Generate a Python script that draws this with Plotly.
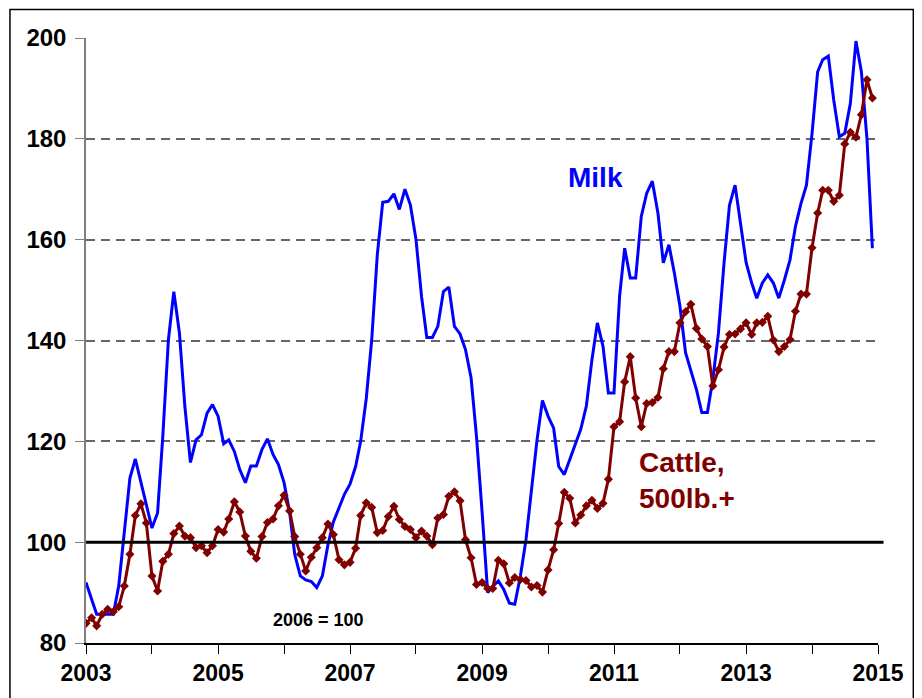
import pandas as pd
import plotly.graph_objects as go

# monthly index values, Jan 2003 - Dec 2014 (2006 = 100)
months = pd.date_range("2003-01-01", periods=144, freq="MS")

milk = [
    92.0, 88.6, 85.7, 85.7, 85.7, 85.7, 91.3, 101.8, 112.7, 116.5, 111.7, 107.1,      # 2003
    102.8, 105.8, 121.0, 140.1, 149.7, 141.5, 127.0, 115.8, 120.3, 121.3, 125.6, 127.3,  # 2004
    125.0, 119.5, 120.3, 118.0, 114.4, 111.8, 115.1, 115.1, 118.4, 120.5, 117.4, 115.4,  # 2005
    111.8, 105.9, 97.6, 93.3, 92.5, 92.2, 91.0, 93.3, 99.5, 104.0, 107.0, 109.5,         # 2006
    111.5, 115.0, 120.0, 128.5, 140.0, 157.0, 167.4, 167.6, 169.1, 166.0, 170.0, 166.9,  # 2007
    160.1, 148.7, 140.6, 140.6, 142.8, 149.7, 150.6, 142.8, 141.3, 138.2, 132.6, 121.0,  # 2008
    106.0, 90.0, 91.2, 92.3, 90.6, 87.9, 87.7, 93.3, 100.5, 110.4, 120.3, 128.1,         # 2009
    125.0, 122.6, 115.0, 113.4, 116.4, 119.1, 122.4, 127.0, 136.2, 143.5, 138.9, 129.6,  # 2010
    129.6, 148.8, 158.3, 152.4, 152.4, 164.6, 169.2, 171.6, 165.3, 155.4, 159.0, 153.4,  # 2011
    146.8, 137.6, 134.3, 130.3, 125.7, 125.7, 132.3, 141.5, 155.4, 166.8, 170.8, 163.5,  # 2012
    155.5, 151.4, 148.4, 151.4, 153.0, 151.4, 148.4, 152.0, 156.0, 162.6, 167.2, 170.8,  # 2013
    181.1, 193.3, 195.7, 196.4, 187.7, 180.4, 181.1, 187.0, 199.4, 193.3, 180.0, 158.3,  # 2014
]

cattle = [
    83.9, 85.0, 83.4, 85.7, 86.7, 86.2, 87.2, 91.3, 97.6, 105.3, 107.6, 103.8,           # 2003
    93.3, 90.3, 96.2, 97.6, 101.7, 103.2, 101.2, 100.9, 98.9, 99.3, 97.9, 99.3,          # 2004
    102.5, 102.0, 104.6, 108.0, 106.0, 101.2, 98.2, 96.8, 101.1, 103.9, 104.6, 107.2,    # 2005
    109.3, 106.2, 101.1, 97.6, 94.3, 97.0, 98.9, 100.9, 103.6, 101.5, 96.5, 95.5,        # 2006
    96.0, 98.8, 105.3, 107.8, 106.9, 101.9, 102.3, 105.1, 107.1, 104.5, 103.1, 102.5,    # 2007
    100.9, 102.2, 101.2, 99.5, 104.8, 105.5, 109.1, 110.0, 108.2, 100.5, 96.9, 91.6,     # 2008
    92.0, 90.8, 90.8, 96.4, 95.7, 91.9, 93.0, 92.6, 92.4, 91.1, 91.4, 90.1,              # 2009
    94.5, 98.5, 103.7, 109.9, 108.7, 103.8, 105.4, 107.2, 108.3, 106.7, 107.7, 112.5,    # 2010
    122.9, 123.9, 131.8, 136.8, 128.6, 122.9, 127.5, 127.7, 128.7, 134.4, 137.8, 137.8,  # 2011
    143.5, 145.7, 147.2, 142.4, 140.3, 138.8, 131.0, 134.2, 138.7, 141.2, 141.3, 142.3,  # 2012
    143.5, 141.2, 143.5, 143.6, 144.8, 140.1, 137.8, 138.8, 140.2, 145.8, 149.2, 149.2,  # 2013
    158.4, 165.3, 169.8, 169.8, 167.6, 168.8, 179.0, 181.3, 180.3, 184.8, 191.7, 188.1,  # 2014
]

years = list(range(2003, 2016))
year_labels = [str(y) if (y - 2003) % 2 == 0 else "" for y in years]
y_ticks = [80, 100, 120, 140, 160, 180, 200]
base_value = 100

FONT = "Liberation Sans, Arial, sans-serif"

fig = go.Figure()

fig.add_trace(go.Scatter(
    x=months, y=milk,
    mode="lines",
    line=dict(color="#0000FF", width=3),
    name="Milk",
))

fig.add_trace(go.Scatter(
    x=months, y=cattle,
    mode="lines+markers",
    line=dict(color="#800000", width=3),
    marker=dict(symbol="diamond", size=7, color="#800000"),
    name="Cattle, 500lb.+",
))

# base line (2006 = 100)
fig.add_shape(type="line", xref="paper", yref="y",
              x0=0, x1=1.007, y0=base_value, y1=base_value,
              line=dict(color="black", width=3))

# outer frame (plot area is 792 x 605 px)
fig.add_shape(type="rect", xref="paper", yref="paper",
              x0=-0.0960, x1=1.0446, y0=-0.098, y1=1.047,
              line=dict(color="black", width=1.5))

fig.add_annotation(x=pd.Timestamp("2010-04-10"), y=172.4, text="<b>Milk</b>",
                   showarrow=False, xanchor="left",
                   font=dict(family=FONT, size=28, color="#0000FF"))
fig.add_annotation(x=pd.Timestamp("2011-05-10"), y=112.2, text="<b>Cattle,<br>500lb.+</b>",
                   showarrow=False, xanchor="left", align="left",
                   font=dict(family=FONT, size=28, color="#800000"))
fig.add_annotation(x=pd.Timestamp("2006-07-10"), y=84.5, text="<b>2006 = 100</b>",
                   showarrow=False,
                   font=dict(family=FONT, size=18, color="black"))

# the page body adds an 8px offset, so the figure is 8px smaller
fig.update_layout(
    width=914, height=690,
    margin=dict(l=78, r=44, t=30, b=55),
    paper_bgcolor="white",
    plot_bgcolor="white",
    showlegend=False,
    font=dict(family=FONT, color="black"),
    xaxis=dict(
        range=[pd.Timestamp("2003-01-01"), pd.Timestamp("2015-01-01")],
        tickvals=[pd.Timestamp(f"{y}-01-01") for y in years],
        ticktext=[f"<b>{t}</b>" for t in year_labels],
        ticks="outside", ticklen=9, tickwidth=1.3, tickcolor="black",
        showline=True, linecolor="black", linewidth=1.5,
        showgrid=False, zeroline=False,
        tickfont=dict(family=FONT, size=23, color="black"),
    ),
    yaxis=dict(
        range=[80, 200],
        tickvals=y_ticks,
        ticktext=[f"<b>{v}</b>" for v in y_ticks],
        ticks="outside", ticklen=9, tickwidth=1.3, tickcolor="#7f7f7f",
        ticklabelstandoff=4,
        showline=True, linecolor="#7f7f7f", linewidth=1.5,
        showgrid=True, gridcolor="#666666", gridwidth=1.5, griddash="9px,6px",
        zeroline=False,
        tickfont=dict(family=FONT, size=24, color="black"),
    ),
)

fig.write_html("out.html")
